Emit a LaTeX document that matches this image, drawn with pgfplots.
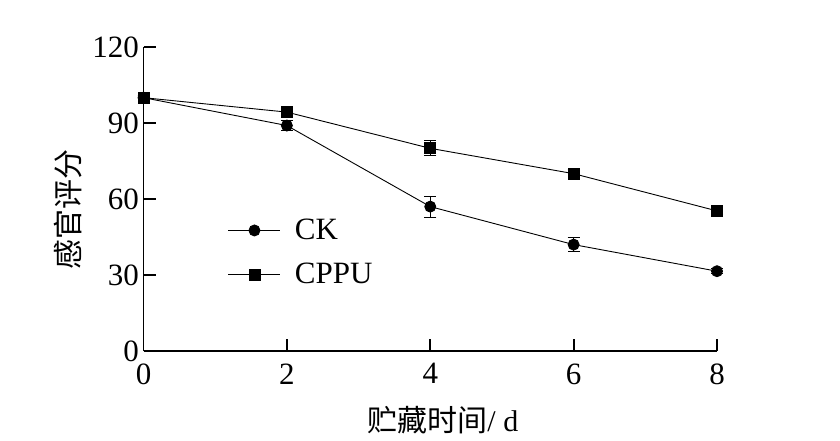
\documentclass[border=0pt]{standalone}
\usepackage{pgfplots}
\pgfplotsset{compat=1.18}
\usepackage{fontspec}
\setmainfont{Liberation Serif}
\newfontfamily\cjk{Noto Sans CJK SC}
\begin{document}
\begin{tikzpicture}[x=1pt,y=1pt]
\useasboundingbox (0,0) rectangle (840,440);
\begin{axis}[
  at={(143.5pt,89pt)}, anchor=origin,
  scale only axis, width=573.5pt, height=304pt,
  xmin=0, xmax=8, ymin=0, ymax=120,
  axis x line*=bottom, axis y line*=left,
  axis line style={line width=1.8pt, -},
  xtick={0,2,4,6,8}, ytick={0,30,60,90,120},
  xtick align=inside, ytick align=inside, major tick length=12pt,
  tick style={line width=1.8pt, black},
  /pgf/number format/assume math mode=true,
  tick label style={font=\fontsize{31}{35}\selectfont},
  xticklabel style={yshift=-9pt},
  yticklabel style={xshift=-1pt},
  clip=false,
  xlabel={{\cjk 贮藏时间}/ d},
  ylabel={\cjk 感官评分},
  label style={font=\fontsize{30}{34}\selectfont},
  xlabel style={at={(axis description cs:0.522,-0.227)}, anchor=center},
  ylabel style={at={(axis description cs:-0.132,0.467)}, anchor=center, rotate=0},
  legend style={draw=none, fill=none, at={(axis description cs:0.147,0.44)}, anchor=north west,
    font=\fontsize{31}{35}\selectfont, inner sep=0pt, row sep=18pt,
    /tikz/every even column/.append style={column sep=0pt}},
  legend cell align=left,
  legend image code/.code={
    \draw[#1, mark repeat=2, mark phase=2] plot coordinates {(0pt,0pt) (26pt,0pt) (52pt,0pt)};
  },
]
\addplot[black, line width=0.9pt, mark=*, mark size=5.5pt,
  error bars/.cd, y dir=both, y explicit, error bar style={line width=0.9pt}, error mark options={rotate=90, mark size=6pt, line width=0.9pt}]
  coordinates {(0,100) +- (0,1) (2,89) +- (0,2) (4,57) +- (0,4.2) (6,42) +- (0,2.8) (8,31.5) +- (0,1)};
\addlegendentry{\hspace{12pt}CK}
\addplot[black, line width=0.9pt, mark=square*, mark size=5.5pt,
  error bars/.cd, y dir=both, y explicit, error bar style={line width=0.9pt}, error mark options={rotate=90, mark size=6pt, line width=0.9pt}]
  coordinates {(0,100) +- (0,1) (2,94.3) +- (0,1.5) (4,80) +- (0,3) (6,70) +- (0,1.5) (8,55.3) +- (0,1.5)};
\addlegendentry{\hspace{12pt}CPPU}
\end{axis}
\end{tikzpicture}
\end{document}
